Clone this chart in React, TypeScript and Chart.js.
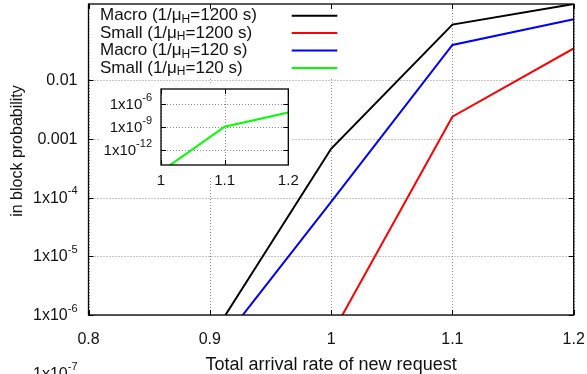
import React, { useEffect, useRef } from 'react';
import { Chart, registerables } from 'chart.js';

Chart.register(...registerables);

// ---- data ----
const xValues = [0.9, 1.0, 1.1, 1.2];
const macro1200 = [3.8e-7, 6.8e-4, 0.089, 0.2];
const small1200 = [null, 4.5e-7, 2.4e-3, 0.035];
const macro120 = [1.9e-7, 8.5e-5, 0.04, 0.11];
const small120 = [null, 1.4e-15, 1.1e-9, 8e-8];

const seriesKinds = ['Macro', 'Small', 'Macro', 'Small'];
const seriesTimes = ['1200', '1200', '120', '120'];
const seriesColors = ['#000000', '#ff0000', '#0000ff', '#00ff00'];
const seriesValues = [macro1200, small1200, macro120, small120];

const xTicks = [0.8, 0.9, 1.0, 1.1, 1.2];
const xTickLabels = ['0.8', '0.9', '1', '1.1', '1.2'];
const yTicks = [1e-6, 1e-5, 1e-4, 1e-3, 1e-2];
const yTickLabelValues = [1e-7, 1e-6, 1e-5, 1e-4, 1e-3, 1e-2];

const insetXTicks = [1, 1.1, 1.2];
const insetXTickLabels = ['1', '1.1', '1.2'];
const insetYTicks = [1e-12, 1e-9, 1e-6];

const xTitle = 'Total arrival rate of new request';
const yTitle = 'in block probability';

const FAMILY = '"Liberation Sans", Arial, Helvetica, sans-serif';
const f = (s: number) => `${s}px ${FAMILY}`;
const TEXT = '#111';

function logLabel(v: number) {
  const e = Math.round(Math.log10(v));
  if (e >= -3) return { base: String(v), sup: '' };
  return { base: '1x10', sup: String(e) };
}

function drawSupRight(ctx: CanvasRenderingContext2D, v: number, xr: number, yc: number, bs: number, ss: number, raise: number) {
  const { base, sup } = logLabel(v);
  ctx.textAlign = 'left';
  ctx.textBaseline = 'middle';
  ctx.font = f(ss);
  const ws = sup ? ctx.measureText(sup).width : 0;
  ctx.font = f(bs);
  const wb = ctx.measureText(base).width;
  ctx.fillText(base, xr - ws - wb, yc);
  if (sup) {
    ctx.font = f(ss);
    ctx.fillText(sup, xr - ws, yc - raise);
  }
}

function drawGrid(chart: any, xs: number[], ys: number[]) {
  const { ctx, chartArea: a, scales } = chart;
  ctx.save();
  ctx.strokeStyle = '#8a8a8a';
  ctx.lineWidth = 1;
  ctx.setLineDash([1, 2]);
  ctx.beginPath();
  xs.forEach((v) => {
    const px = Math.round(scales.x.getPixelForValue(v)) + 0.5;
    ctx.moveTo(px, a.top);
    ctx.lineTo(px, a.bottom);
  });
  ys.forEach((v) => {
    const py = Math.round(scales.y.getPixelForValue(v)) + 0.5;
    ctx.moveTo(a.left, py);
    ctx.lineTo(a.right, py);
  });
  ctx.stroke();
  ctx.restore();
}

function drawFrame(chart: any, xs: number[], ys: number[], tl: number) {
  const { ctx, chartArea: a, scales } = chart;
  ctx.save();
  ctx.setLineDash([]);
  ctx.strokeStyle = '#000';
  ctx.lineWidth = 1.3;
  ctx.strokeRect(a.left, a.top, a.right - a.left, a.bottom - a.top);
  ctx.lineWidth = 1;
  ctx.beginPath();
  xs.forEach((v) => {
    const px = Math.round(scales.x.getPixelForValue(v)) + 0.5;
    ctx.moveTo(px, a.bottom);
    ctx.lineTo(px, a.bottom - tl);
    ctx.moveTo(px, a.top);
    ctx.lineTo(px, a.top + tl);
  });
  ys.forEach((v) => {
    const py = Math.round(scales.y.getPixelForValue(v)) + 0.5;
    ctx.moveTo(a.left, py);
    ctx.lineTo(a.left + tl, py);
    ctx.moveTo(a.right, py);
    ctx.lineTo(a.right - tl, py);
  });
  ctx.stroke();
  ctx.restore();
}

const mainPlugin = {
  id: 'mainDecor',
  beforeDatasetsDraw(chart: any) {
    const { ctx, chartArea: a } = chart;
    drawGrid(chart, xTicks, yTicks);
    ctx.save();
    ctx.fillStyle = '#fff';
    ctx.fillRect(a.left + 1, a.top + 1, 256, 72);
    ctx.restore();
  },
  afterDatasetsDraw(chart: any) {
    const { ctx, chartArea: a, scales } = chart;
    // legend
    ctx.save();
    for (let i = 0; i < seriesKinds.length; i++) {
      const yc = 15.7 + i * 17.4;
      const x0 = 100;
      ctx.fillStyle = TEXT;
      ctx.textAlign = 'left';
      ctx.textBaseline = 'middle';
      const p1 = `${seriesKinds[i]} (1/\u03bc`;
      const p3 = `=${seriesTimes[i]} s)`;
      ctx.font = f(17);
      ctx.fillText(p1, x0, yc);
      const w1 = ctx.measureText(p1).width;
      ctx.font = f(12);
      ctx.fillText('H', x0 + w1, yc + 4);
      const w2 = ctx.measureText('H').width;
      ctx.font = f(17);
      ctx.fillText(p3, x0 + w1 + w2, yc);
      ctx.strokeStyle = seriesColors[i];
      ctx.lineWidth = 2;
      ctx.beginPath();
      ctx.moveTo(291.7, yc);
      ctx.lineTo(337.3, yc);
      ctx.stroke();
    }
    ctx.restore();
    drawFrame(chart, xTicks, yTicks, 5);
    ctx.save();
    ctx.fillStyle = TEXT;
    // x tick labels
    ctx.font = f(16);
    ctx.textAlign = 'center';
    ctx.textBaseline = 'middle';
    xTicks.forEach((v, i) => {
      ctx.fillText(xTickLabels[i], scales.x.getPixelForValue(v), a.bottom + 25);
    });
    // y tick labels
    yTickLabelValues.forEach((v) => {
      drawSupRight(ctx, v, a.left - 11, scales.y.getPixelForValue(v) + 0.5, 16, 11, 7);
    });
    // titles
    ctx.font = f(18);
    ctx.textAlign = 'center';
    ctx.textBaseline = 'middle';
    ctx.fillText(xTitle, (a.left + a.right) / 2, 365);
    ctx.translate(18, 151);
    ctx.rotate(-Math.PI / 2);
    ctx.font = f(16);
    ctx.fillText(yTitle, 0, 0);
    ctx.restore();
  },
};

const insetPlugin = {
  id: 'insetDecor',
  beforeDraw(chart: any) {
    const { ctx } = chart;
    ctx.save();
    ctx.fillStyle = '#fff';
    ctx.fillRect(0, 2, 191, 93);
    ctx.restore();
  },
  beforeDatasetsDraw(chart: any) {
    drawGrid(chart, insetXTicks, insetYTicks);
  },
  afterDatasetsDraw(chart: any) {
    const { ctx, chartArea: a, scales } = chart;
    drawFrame(chart, insetXTicks, insetYTicks, 5);
    ctx.save();
    ctx.fillStyle = TEXT;
    ctx.font = f(15);
    ctx.textAlign = 'center';
    ctx.textBaseline = 'middle';
    insetXTicks.forEach((v, i) => {
      ctx.fillText(insetXTickLabels[i], scales.x.getPixelForValue(v), a.bottom + 15.5);
    });
    insetYTicks.forEach((v) => {
      drawSupRight(ctx, v, a.left - 9, scales.y.getPixelForValue(v) + 1, 15, 11, 7);
    });
    ctx.restore();
  },
};

function makeDatasets(indices: number[]) {
  return indices.map((i) => ({
    label: `${seriesKinds[i]} (1/\u03bcH=${seriesTimes[i]} s)`,
    data: xValues.map((x, j) => ({ x, y: seriesValues[i][j] })),
    borderColor: seriesColors[i],
    backgroundColor: seriesColors[i],
    borderWidth: 2,
    pointRadius: 0,
    fill: false,
    tension: 0,
    clip: 0,
    spanGaps: false,
  }));
}

export default function App() {
  const mainRef = useRef<HTMLCanvasElement>(null);
  const insetRef = useRef<HTMLCanvasElement>(null);

  useEffect(() => {
    document.body.style.margin = '0';
    const main = new Chart(mainRef.current as HTMLCanvasElement, {
      type: 'line',
      data: { datasets: makeDatasets([0, 1, 2, 3]) as any },
      options: {
        responsive: false,
        animation: false,
        devicePixelRatio: 1,
        events: [],
        layout: { padding: { left: 0, top: 4, right: 13.3, bottom: 0 } },
        plugins: { legend: { display: false }, tooltip: { enabled: false } },
        scales: {
          x: {
            type: 'linear',
            min: 0.8,
            max: 1.2,
            grid: { display: false },
            border: { display: false },
            ticks: { display: false },
            afterBuildTicks: (s: any) => { s.ticks = xTicks.map((v) => ({ value: v })); },
            afterFit: (s: any) => { s.height = 59; },
          },
          y: {
            type: 'logarithmic',
            min: 1e-6,
            max: 0.2,
            grid: { display: false },
            border: { display: false },
            ticks: { display: false },
            afterBuildTicks: (s: any) => { s.ticks = yTicks.map((v) => ({ value: v })); },
            afterFit: (s: any) => { s.width = 88.5; },
          },
        },
      } as any,
      plugins: [mainPlugin],
    });
    const inset = new Chart(insetRef.current as HTMLCanvasElement, {
      type: 'line',
      data: { datasets: makeDatasets([3]) as any },
      options: {
        responsive: false,
        animation: false,
        devicePixelRatio: 1,
        events: [],
        layout: { padding: { left: 0, top: 7, right: 26.7, bottom: 0 } },
        plugins: { legend: { display: false }, tooltip: { enabled: false } },
        scales: {
          x: {
            type: 'linear',
            min: 1,
            max: 1.2,
            grid: { display: false },
            border: { display: false },
            ticks: { display: false },
            afterBuildTicks: (s: any) => { s.ticks = insetXTicks.map((v) => ({ value: v })); },
            afterFit: (s: any) => { s.height = 29; },
          },
          y: {
            type: 'logarithmic',
            min: 1e-14,
            max: 1e-4,
            grid: { display: false },
            border: { display: false },
            ticks: { display: false },
            afterBuildTicks: (s: any) => { s.ticks = insetYTicks.map((v) => ({ value: v })); },
            afterFit: (s: any) => { s.width = 61; },
          },
        },
      } as any,
      plugins: [insetPlugin],
    });
    return () => {
      main.destroy();
      inset.destroy();
    };
  }, []);

  return (
    <div style={{ position: 'fixed', left: 0, top: 0, width: 587, height: 374, background: '#fff', overflow: 'hidden' }}>
      <canvas ref={mainRef} width={587} height={374} style={{ position: 'absolute', left: 0, top: 0 }} />
      <canvas ref={insetRef} width={215} height={112} style={{ position: 'absolute', left: 100, top: 82 }} />
    </div>
  );
}
